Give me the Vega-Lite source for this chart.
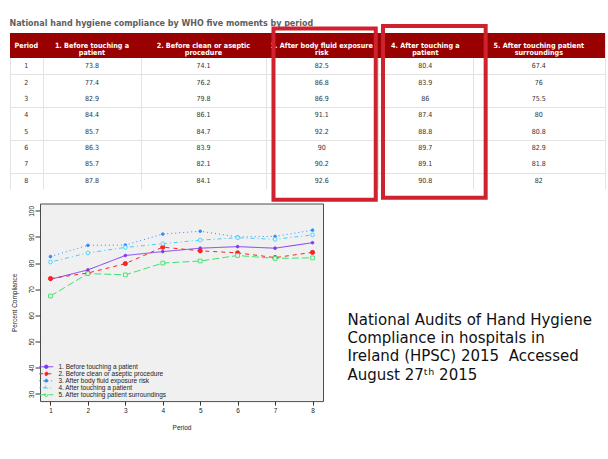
{
  "$schema": "https://vega.github.io/schema/vega-lite/v6.json",
  "background": "white",
  "padding": {"left": 9, "top": 19, "right": 0, "bottom": 0},
  "spacing": 0.5,
  "resolve": {"scale": {"stroke": "independent", "strokeDash": "independent", "fill": "independent"}, "legend": {"stroke": "independent", "strokeDash": "independent", "fill": "independent"}},
  "config": {
    "font": "Liberation Sans",
    "view": {"stroke": null},
    "axis": {"labelFont": "Liberation Sans", "titleFont": "Liberation Sans", "labelOverlap": false, "labelSeparation": 0}
  },
  "datasets": {
    "rates": [
      {"period": 1, "m": 1, "moment": "1. Before touching a patient", "value": 73.8},
      {"period": 2, "m": 1, "moment": "1. Before touching a patient", "value": 77.4},
      {"period": 3, "m": 1, "moment": "1. Before touching a patient", "value": 82.9},
      {"period": 4, "m": 1, "moment": "1. Before touching a patient", "value": 84.4},
      {"period": 5, "m": 1, "moment": "1. Before touching a patient", "value": 85.7},
      {"period": 6, "m": 1, "moment": "1. Before touching a patient", "value": 86.3},
      {"period": 7, "m": 1, "moment": "1. Before touching a patient", "value": 85.7},
      {"period": 8, "m": 1, "moment": "1. Before touching a patient", "value": 87.8},
      {"period": 1, "m": 2, "moment": "2. Before clean or aseptic procedure", "value": 74.1},
      {"period": 2, "m": 2, "moment": "2. Before clean or aseptic procedure", "value": 76.2},
      {"period": 3, "m": 2, "moment": "2. Before clean or aseptic procedure", "value": 79.8},
      {"period": 4, "m": 2, "moment": "2. Before clean or aseptic procedure", "value": 86.1},
      {"period": 5, "m": 2, "moment": "2. Before clean or aseptic procedure", "value": 84.7},
      {"period": 6, "m": 2, "moment": "2. Before clean or aseptic procedure", "value": 83.9},
      {"period": 7, "m": 2, "moment": "2. Before clean or aseptic procedure", "value": 82.1},
      {"period": 8, "m": 2, "moment": "2. Before clean or aseptic procedure", "value": 84.1},
      {"period": 1, "m": 3, "moment": "3. After body fluid exposure risk", "value": 82.5},
      {"period": 2, "m": 3, "moment": "3. After body fluid exposure risk", "value": 86.8},
      {"period": 3, "m": 3, "moment": "3. After body fluid exposure risk", "value": 86.9},
      {"period": 4, "m": 3, "moment": "3. After body fluid exposure risk", "value": 91.1},
      {"period": 5, "m": 3, "moment": "3. After body fluid exposure risk", "value": 92.2},
      {"period": 6, "m": 3, "moment": "3. After body fluid exposure risk", "value": 90},
      {"period": 7, "m": 3, "moment": "3. After body fluid exposure risk", "value": 90.2},
      {"period": 8, "m": 3, "moment": "3. After body fluid exposure risk", "value": 92.6},
      {"period": 1, "m": 4, "moment": "4. After touching a patient", "value": 80.4},
      {"period": 2, "m": 4, "moment": "4. After touching a patient", "value": 83.9},
      {"period": 3, "m": 4, "moment": "4. After touching a patient", "value": 86},
      {"period": 4, "m": 4, "moment": "4. After touching a patient", "value": 87.4},
      {"period": 5, "m": 4, "moment": "4. After touching a patient", "value": 88.8},
      {"period": 6, "m": 4, "moment": "4. After touching a patient", "value": 89.7},
      {"period": 7, "m": 4, "moment": "4. After touching a patient", "value": 89.1},
      {"period": 8, "m": 4, "moment": "4. After touching a patient", "value": 90.8},
      {"period": 1, "m": 5, "moment": "5. After touching patient surroundings", "value": 67.4},
      {"period": 2, "m": 5, "moment": "5. After touching patient surroundings", "value": 76},
      {"period": 3, "m": 5, "moment": "5. After touching patient surroundings", "value": 75.5},
      {"period": 4, "m": 5, "moment": "5. After touching patient surroundings", "value": 80},
      {"period": 5, "m": 5, "moment": "5. After touching patient surroundings", "value": 80.8},
      {"period": 6, "m": 5, "moment": "5. After touching patient surroundings", "value": 82.9},
      {"period": 7, "m": 5, "moment": "5. After touching patient surroundings", "value": 81.8},
      {"period": 8, "m": 5, "moment": "5. After touching patient surroundings", "value": 82}
    ],
    "header": [
      {"m": 0, "head": ["Period"]},
      {"m": 1, "head": ["1. Before touching a", "patient"]},
      {"m": 2, "head": ["2. Before clean or aseptic", "procedure"]},
      {"m": 3, "head": ["3. After body fluid exposure", "risk"]},
      {"m": 4, "head": ["4. After touching a", "patient"]},
      {"m": 5, "head": ["5. After touching patient", "surroundings"]}
    ],
    "note": [
      {"line": 1, "text": "National Audits of Hand Hygiene"},
      {"line": 2, "text": "Compliance in hospitals in"},
      {"line": 3, "text": "Ireland (HPSC) 2015\u00a0 Accessed"},
      {"line": 4, "text": "August 27ᵗʰ 2015"}
    ]
  },
  "vconcat": [
    {
      "title": {"text": "National hand hygiene compliance by WHO five moments by period", "anchor": "start", "font": "DejaVu Sans Condensed, DejaVu Sans", "fontSize": 8.9, "fontWeight": "bold", "color": "#5e5e5e", "offset": -4},
      "width": 565,
      "height": 156,
      "layer": [
        {
          "data": {"name": "header"},
          "transform": [{"filter": "datum.m == 0"}],
          "mark": {"type": "rect", "color": "#990000"},
          "encoding": {
            "x": {"datum": -0.5, "type": "quantitative"},
            "x2": {"datum": 5.5},
            "y": {"datum": -0.5, "type": "quantitative"},
            "y2": {"datum": 0.5}
          }
        },
        {
          "data": {"name": "header"},
          "mark": {"type": "text", "font": "DejaVu Sans Condensed, DejaVu Sans", "fontSize": 7.2, "fontWeight": "bold", "color": "white", "lineHeight": 7.7, "baseline": "middle"},
          "encoding": {
            "x": {"field": "m", "type": "quantitative"},
            "y": {"datum": 0, "type": "quantitative"},
            "text": {"field": "head"}
          }
        },
        {
          "data": {"name": "rates"},
          "transform": [{"filter": "datum.m == 1"}],
          "mark": {"type": "text", "font": "DejaVu Sans Condensed, DejaVu Sans", "fontSize": 7, "color": "#333", "baseline": "middle"},
          "encoding": {
            "x": {"datum": 0, "type": "quantitative"},
            "y": {"field": "period", "type": "quantitative"},
            "text": {"field": "period", "type": "nominal"}
          }
        },
        {
          "data": {"name": "rates"},
          "mark": {"type": "text", "font": "DejaVu Sans Condensed, DejaVu Sans", "fontSize": 7, "color": "#333", "baseline": "middle"},
          "encoding": {
            "x": {"field": "m", "type": "quantitative",
                  "scale": {"type": "linear", "domain": [-0.5, 0.5, 1.5, 2.5, 3.5, 4.5, 5.5], "range": [-30, 2.7, 101.3, 225.5, 338, 432.7, 565], "nice": false, "zero": false},
                  "axis": {"values": [-0.5, 0.5, 1.5, 2.5, 3.5, 4.5, 5.5], "grid": true, "gridColor": "#e3e3e3", "labels": false, "ticks": false, "domain": false, "title": null, "minExtent": 0, "maxExtent": 0}},
            "y": {"field": "period", "type": "quantitative",
                  "scale": {"type": "linear", "domain": [-0.5, 0.5, 8.5], "range": [0, 25, 156], "nice": false, "zero": false},
                  "axis": {"values": [1.5, 2.5, 3.5, 4.5, 5.5, 6.5, 7.5, 8.5], "grid": true, "gridColor": "#e3e3e3", "labels": false, "ticks": true, "tickSize": 30, "tickColor": "#e3e3e3", "domain": false, "title": null, "minExtent": 0, "maxExtent": 30}},
            "text": {"field": "value", "type": "nominal"}
          }
        },
        {
          "data": {"name": "header"},
          "transform": [{"filter": "datum.m == 3"}],
          "mark": {"type": "rect", "fillOpacity": 0, "stroke": "#d1212f", "strokeWidth": 4},
          "encoding": {
            "x": {"datum": 2.571, "type": "quantitative"},
            "x2": {"datum": 3.48},
            "y": {"datum": -0.68, "type": "quantitative"},
            "y2": {"datum": 9.16}
          }
        },
        {
          "data": {"name": "header"},
          "transform": [{"filter": "datum.m == 4"}],
          "mark": {"type": "rect", "fillOpacity": 0, "stroke": "#d1212f", "strokeWidth": 4},
          "encoding": {
            "x": {"datum": 3.553, "type": "quantitative"},
            "x2": {"datum": 4.598},
            "y": {"datum": -0.78, "type": "quantitative"},
            "y2": {"datum": 9.031}
          }
        }
      ]
    },
    {
      "spacing": 23.5,
      "resolve": {"scale": {"stroke": "independent", "strokeDash": "independent", "fill": "independent"}, "legend": {"stroke": "independent", "strokeDash": "independent", "fill": "independent"}},
      "hconcat": [
        {
          "width": 283,
          "height": 197.6,
          "view": {"fill": "#f0f0f0", "stroke": "#4d4d4d"},
          "data": {"name": "rates"},
          "encoding": {
            "x": {"field": "period", "type": "quantitative",
                  "scale": {"domain": [0.72, 8.28], "nice": false, "zero": false},
                  "axis": {"values": [1, 2, 3, 4, 5, 6, 7, 8], "title": "Period", "grid": false, "domain": false, "tickSize": 4, "tickColor": "#333", "labelPadding": 2.5, "labelFontSize": 6.5, "labelColor": "#222", "titlePadding": 10.5, "titleFontSize": 6.5, "titleFontWeight": "normal", "titleColor": "#222", "labelFlush": false, "labelOverlap": false, "minExtent": 0}},
            "y": {"field": "value", "type": "quantitative",
                  "scale": {"domain": [27.2, 102.8], "nice": false, "zero": false},
                  "axis": {"values": [30, 40, 50, 60, 70, 80, 90, 100], "title": "Percent Compliance", "grid": false, "domain": false, "tickSize": 5, "tickColor": "#333", "labelAngle": -90, "labelPadding": 1, "labelFontSize": 6.5, "labelColor": "#222", "titlePadding": 10.5, "titleFontSize": 6.5, "titleFontWeight": "normal", "titleColor": "#222", "labelFlush": false, "labelOverlap": false, "minExtent": 0}},
            "stroke": {"field": "moment", "type": "nominal",
                       "scale": {"domain": ["1. Before touching a patient", "2. Before clean or aseptic procedure", "3. After body fluid exposure risk", "4. After touching a patient", "5. After touching patient surroundings"],
                                 "range": ["#7b3af2", "#ff2020", "#2b8cff", "#3fd0ff", "#3ee36a"]},
                       "legend": {"title": null, "orient": "bottom-left", "offset": 2.5, "symbolType": "M-2.8,0H2.8M0.7,0A0.7,0.7,0,1,1,-0.7,0A0.7,0.7,0,1,1,0.7,0", "symbolSize": 25, "symbolStrokeWidth": 1, "labelFont": "Liberation Sans", "labelFontSize": 6.5, "labelColor": "#222", "labelOffset": 8.9, "rowPadding": -1.9, "padding": 0, "labelLimit": 300}}
          },
          "layer": [
            {
              "mark": {"type": "line", "strokeWidth": 1},
              "encoding": {
                "strokeDash": {"field": "moment", "type": "nominal",
                               "scale": {"domain": ["1. Before touching a patient", "2. Before clean or aseptic procedure", "3. After body fluid exposure risk", "4. After touching a patient", "5. After touching patient surroundings"],
                                         "range": [[1, 0], [4, 4], [1, 3], [1, 3, 4, 3], [7, 3]]}}
              }
            },
            {
              "transform": [{"filter": "datum.m == 1 || datum.m == 3"}],
              "mark": {"type": "point", "shape": "circle", "size": 7, "strokeWidth": 0.9, "opacity": 1},
              "encoding": {
                "fill": {"field": "moment", "type": "nominal",
                         "scale": {"domain": ["1. Before touching a patient", "2. Before clean or aseptic procedure", "3. After body fluid exposure risk", "4. After touching a patient", "5. After touching patient surroundings"],
                                   "range": ["#7b3af2", "#ff2020", "#2b8cff", "#f0f0f0", "#f0f0f0"]}}
              }
            },
            {
              "transform": [{"filter": "datum.m == 2"}],
              "mark": {"type": "point", "shape": "circle", "size": 18, "strokeWidth": 0.9, "opacity": 1},
              "encoding": {"fill": {"field": "moment", "type": "nominal"}}
            },
            {
              "transform": [{"filter": "datum.m == 4"}],
              "mark": {"type": "point", "shape": "circle", "size": 14, "strokeWidth": 0.9, "opacity": 1},
              "encoding": {"fill": {"field": "moment", "type": "nominal"}}
            },
            {
              "transform": [{"filter": "datum.m == 5"}],
              "mark": {"type": "point", "shape": "square", "size": 14, "strokeWidth": 0.9, "opacity": 1},
              "encoding": {"fill": {"field": "moment", "type": "nominal"}}
            }
          ]
        },
        {
          "width": 255,
          "height": 197.6,
          "data": {"name": "note"},
          "mark": {"type": "text", "align": "left", "baseline": "middle", "font": "DejaVu Sans", "fontSize": 15, "color": "#111"},
          "encoding": {
            "x": {"value": 0},
            "y": {"field": "line", "type": "ordinal", "scale": {"type": "point", "range": [116, 171], "padding": 0}, "axis": null},
            "text": {"field": "text"}
          }
        }
      ]
    }
  ]
}
